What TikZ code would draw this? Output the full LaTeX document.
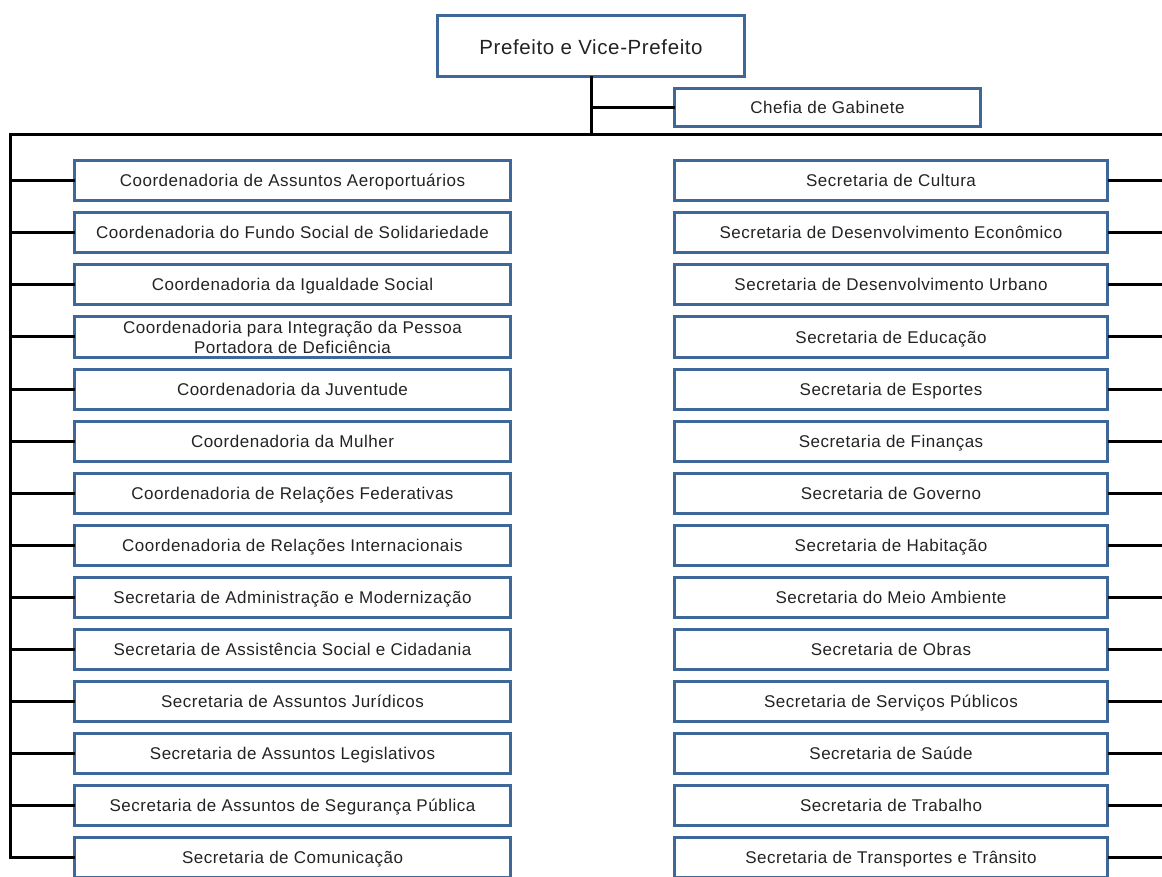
\documentclass[tikz,border=0pt]{standalone}
\usepackage{fontspec}
\setmainfont{Liberation Sans}[LetterSpace=3]
\usetikzlibrary{positioning}
\definecolor{boxblue}{RGB}{62,104,154}
\definecolor{textgray}{RGB}{35,35,35}

\begin{document}
\begin{tikzpicture}[x=1pt,y=-1pt,line width=3pt,
    unit/.style={draw=boxblue,fill=white,text=textgray,
        outer sep=0pt,inner sep=1pt,align=center,
        text height=14pt,text depth=2pt,
        minimum height=40pt,font=\fontsize{17}{20}\selectfont},
    leftunit/.style={unit,minimum width=436pt},
    rightunit/.style={unit,minimum width=433pt},
    node distance=12pt]
\useasboundingbox (0,0) rectangle (1162,877);

% Top block
\node[unit,
    minimum width=307pt,
    minimum height=61pt,
    text height=18.5pt,text depth=0.5pt,
    font=\fontsize{20.5}{24}\selectfont
] (prefeito) at (591,46) {Prefeito e Vice-Prefeito};

\node[unit,
    minimum width=306pt,
    minimum height=38pt
] (chefia) at (827.5,107.5) {Chefia de Gabinete};

% Left column
\node[leftunit] (L1) at (292.5,181) {Coordenadoria de Assuntos Aeroportuários};
\node[leftunit, below=of L1] (L2) {Coordenadoria do Fundo Social de Solidariedade};
\node[leftunit, below=of L2] (L3) {Coordenadoria da Igualdade Social};
\node[leftunit, below=of L3,
    text height=, text depth=,
    inner sep=0pt] (L4) {Coordenadoria para Integração da Pessoa\\Portadora de Deficiência};
\node[leftunit, below=of L4] (L5) {Coordenadoria da Juventude};
\node[leftunit, below=of L5] (L6) {Coordenadoria da Mulher};
\node[leftunit, below=of L6] (L7) {Coordenadoria de Relações Federativas};
\node[leftunit, below=of L7] (L8) {Coordenadoria de Relações Internacionais};
\node[leftunit, below=of L8] (L9) {Secretaria de Administração e Modernização};
\node[leftunit, below=of L9] (L10) {Secretaria de Assistência Social e Cidadania};
\node[leftunit, below=of L10] (L11) {Secretaria de Assuntos Jurídicos};
\node[leftunit, below=of L11] (L12) {Secretaria de Assuntos Legislativos};
\node[leftunit, below=of L12] (L13) {Secretaria de Assuntos de Segurança Pública};
\node[leftunit, below=of L13] (L14) {Secretaria de Comunicação};

% Right column
\node[rightunit] (R1) at (891,181) {Secretaria de Cultura};
\node[rightunit, below=of R1] (R2) {Secretaria de Desenvolvimento Econômico};
\node[rightunit, below=of R2] (R3) {Secretaria de Desenvolvimento Urbano};
\node[rightunit, below=of R3] (R4) {Secretaria de Educação};
\node[rightunit, below=of R4] (R5) {Secretaria de Esportes};
\node[rightunit, below=of R5] (R6) {Secretaria de Finanças};
\node[rightunit, below=of R6] (R7) {Secretaria de Governo};
\node[rightunit, below=of R7] (R8) {Secretaria de Habitação};
\node[rightunit, below=of R8] (R9) {Secretaria do Meio Ambiente};
\node[rightunit, below=of R9] (R10) {Secretaria de Obras};
\node[rightunit, below=of R10] (R11) {Secretaria de Serviços Públicos};
\node[rightunit, below=of R11] (R12) {Secretaria de Saúde};
\node[rightunit, below=of R12] (R13) {Secretaria de Trabalho};
\node[rightunit, below=of R13] (R14) {Secretaria de Transportes e Trânsito};

% Bus lines
\coordinate (busC) at (591,135);
\coordinate (busL) at (10,135);
\coordinate (busR) at (1162,135);

\draw (prefeito.south) -- (busC)
    (chefia.west) -- (chefia.west -| busC);
\draw (busR) -- (busL) |- (L14.west);

% Left links
\draw (L1.west) -- (L1.west -| busL)
    (L2.west) -- (L2.west -| busL)
    (L3.west) -- (L3.west -| busL)
    (L4.west) -- (L4.west -| busL)
    (L5.west) -- (L5.west -| busL)
    (L6.west) -- (L6.west -| busL)
    (L7.west) -- (L7.west -| busL)
    (L8.west) -- (L8.west -| busL)
    (L9.west) -- (L9.west -| busL)
    (L10.west) -- (L10.west -| busL)
    (L11.west) -- (L11.west -| busL)
    (L12.west) -- (L12.west -| busL)
    (L13.west) -- (L13.west -| busL);

% Right links
\draw (R1.east) -- (R1.east -| busR)
    (R2.east) -- (R2.east -| busR)
    (R3.east) -- (R3.east -| busR)
    (R4.east) -- (R4.east -| busR)
    (R5.east) -- (R5.east -| busR)
    (R6.east) -- (R6.east -| busR)
    (R7.east) -- (R7.east -| busR)
    (R8.east) -- (R8.east -| busR)
    (R9.east) -- (R9.east -| busR)
    (R10.east) -- (R10.east -| busR)
    (R11.east) -- (R11.east -| busR)
    (R12.east) -- (R12.east -| busR)
    (R13.east) -- (R13.east -| busR)
    (R14.east) -- (R14.east -| busR);

\end{tikzpicture}
\end{document}
